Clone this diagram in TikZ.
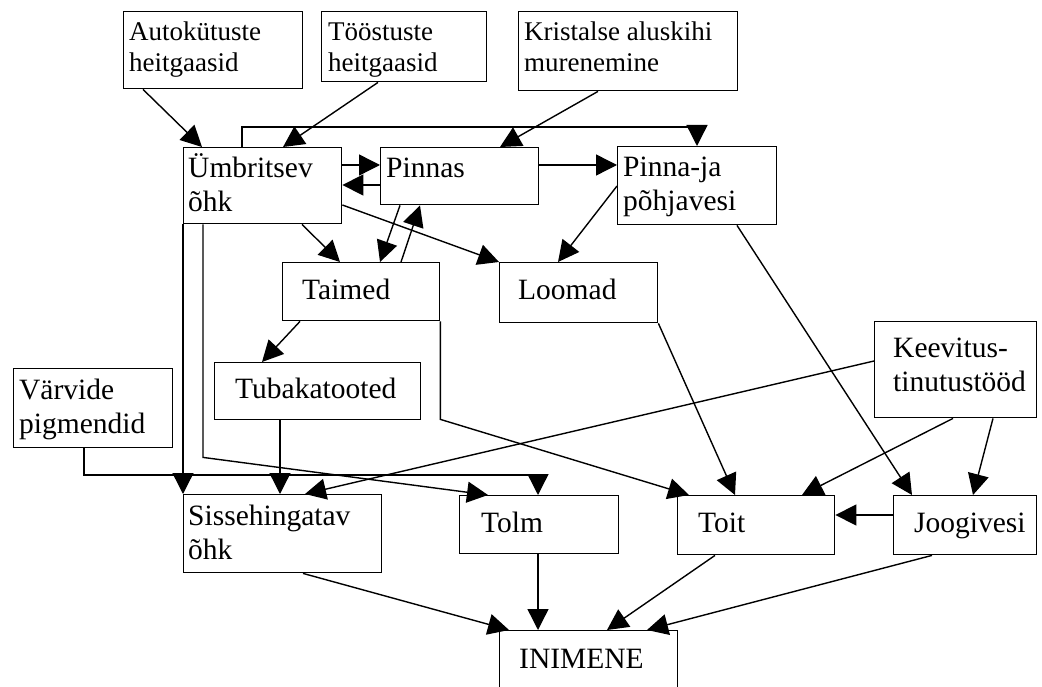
\documentclass[tikz,border=0pt]{standalone}
\usepackage{fontspec}
\setmainfont{Liberation Serif}
\usetikzlibrary{arrows.meta,calc}
\newcommand\mybox[5]{\node[box, anchor=north west, minimum width={#4-#2}, minimum height={#5-#3}] (#1) at (#2,#3) {};}
\newcommand\mylab[5]{\node[txt, anchor=base west] (#1t) at ($(#1.north west)+(#2,#3)$) {\parbox[t]{400pt}{#4#5}};}
\newcommand\bigf{\fontsize{29.5}{34}\selectfont}
\newcommand\smallf{\fontsize{27}{31}\selectfont}
\begin{document}
\begin{tikzpicture}[x=1pt,y=-1pt,
  box/.style={draw=black, line width=1.4pt, inner sep=0pt, rectangle, fill=none},
  txt/.style={inner sep=0pt, text=black},
  arr/.style={draw=black, line width=1.4pt, -{Triangle[length=21pt,width=21pt]}},
  ln/.style={draw=black, line width=1.4pt}]
\useasboundingbox (0,0) rectangle (1042,687);
\fill[white] (0,0) rectangle (1042,687);
% boxes
\mybox{aut}{123}{11}{302}{88}
\mybox{too}{321}{11}{486}{81}
\mybox{kri}{518}{11}{737}{90}
\mybox{umb}{183}{147}{341}{223}
\mybox{pin}{380}{147}{538}{204}
\mybox{pvj}{617}{146}{776}{224}
\mybox{tai}{282}{262}{439}{320}
\mybox{loo}{499}{262}{657}{322}
\mybox{tub}{214}{362}{420}{419}
\mybox{var}{13}{368}{172}{447}
\mybox{kee}{874}{321}{1036}{417}
\mybox{sis}{183}{494}{381}{572}
\mybox{tol}{459}{495}{618}{553}
\mybox{toi}{677}{495}{834}{554}
\mybox{joo}{893}{495}{1036}{554}
\mybox{ini}{499}{630}{677}{700}
% texts
\mylab{aut}{6}{30}{\smallf}{Autokütuste\\heitgaasid}
\mylab{too}{7}{30}{\smallf}{Tööstuste\\heitgaasid}
\mylab{kri}{6}{30}{\smallf}{Kristalse aluskihi\\murenemine}
\mylab{umb}{5}{31}{\bigf}{Ümbritsev\\õhk}
\mylab{pin}{6}{31}{\bigf}{Pinnas}
\mylab{pvj}{6}{31}{\bigf}{Pinna-ja\\põhjavesi}
\mylab{tai}{20}{38}{\bigf}{Taimed}
\mylab{loo}{19}{38}{\bigf}{Loomad}
\mylab{tub}{21}{36}{\bigf}{Tubakatooted}
\mylab{var}{6}{31}{\bigf}{Värvide\\pigmendid}
\mylab{kee}{19}{36}{\bigf}{Keevitus-\\tinutustööd}
\mylab{sis}{5}{31}{\bigf}{Sissehingatav\\õhk}
\mylab{tol}{22}{37}{\bigf}{Tolm}
\mylab{toi}{21}{37}{\bigf}{Toit}
\mylab{joo}{21}{37}{\bigf}{Joogivesi}
\mylab{ini}{20}{38}{\bigf}{INIMENE}
% connectors
\draw[arr] ($(aut.south west)+(20,0)$) -- ($(umb.north west)+(19,0)$);
\draw[arr] ($(too.south west)+(57,0)$) -- ($(umb.north west)+(100,0)$);
\draw[arr] ($(kri.south west)+(80,0)$) -- ($(pin.north west)+(120,0)$);
\draw[arr] ($(umb.north west)+(59,0)$) -- ++(0,-20) -| ($(pvj.north west)+(80,0)$);
\draw[arr] ($(umb.north east)+(0,18)$) -- ($(pin.north west)+(0,18)$);
\draw[arr] ($(pin.north west)+(0,38)$) -- ($(umb.north east)+(0,38)$);
\draw[arr] ($(pin.north east)+(0,18)$) -- ($(pvj.north west)+(0,19)$);
\draw[arr] ($(pvj.north west)+(0,40)$) -- ($(loo.north west)+(59,0)$);
\draw[arr] ($(umb.south west)+(119,0)$) -- ($(tai.north west)+(58,0)$);
\draw[arr] ($(umb.north east)+(0,58)$) -- (loo.north west);
\draw[arr] ($(pin.south west)+(20,0)$) -- ($(tai.north west)+(98,0)$);
\draw[arr] ($(tai.north west)+(119,0)$) -- ($(pin.south west)+(40,0)$);
\draw[arr] ($(tai.south west)+(18,0)$) -- ($(tub.north west)+(48,0)$);
\draw[arr] (tai.south east) -- ++(0,98) -- ($(toi.north west)+(12,0)$);
\draw[arr] (loo.south east) -- ($(toi.north west)+(58,0)$);
\draw[arr] ($(pvj.south west)+(120,0)$) -- ($(joo.north west)+(19,0)$);
\draw[arr] ($(kee.south west)+(79,0)$) -- ($(toi.north west)+(125,0)$);
\draw[arr] ($(kee.south west)+(119,0)$) -- ($(joo.north west)+(80,0)$);
\draw[arr] ($(joo.north west)+(0,20)$) -- ($(toi.north east)+(0,20)$);
\draw[arr] ($(kee.north west)+(0,40)$) -- ($(sis.north west)+(122,0)$);
\draw[arr] ($(tub.south west)+(66,0)$) -- ($(sis.north west)+(97,0)$);
\draw[arr] (umb.south west) -- (sis.north west);
\draw[arr] ($(umb.south west)+(20,0)$) -- ++(0,233) -- ($(tol.north west)+(29,0)$);
\draw[arr] ($(var.south west)+(71,0)$) |- ($(tol.north west)+(79,-20)$) -- ($(tol.north west)+(79,0)$);
\draw[arr] ($(tol.south west)+(79,0)$) -- ($(ini.north west)+(39,0)$);
\draw[arr] ($(sis.south west)+(120,0)$) -- ($(ini.north west)+(10,0)$);
\draw[arr] ($(toi.south west)+(38,0)$) -- ($(ini.north west)+(108,0)$);
\draw[arr] ($(joo.south west)+(39,0)$) -- ($(ini.north west)+(148,0)$);
\end{tikzpicture}
\end{document}
